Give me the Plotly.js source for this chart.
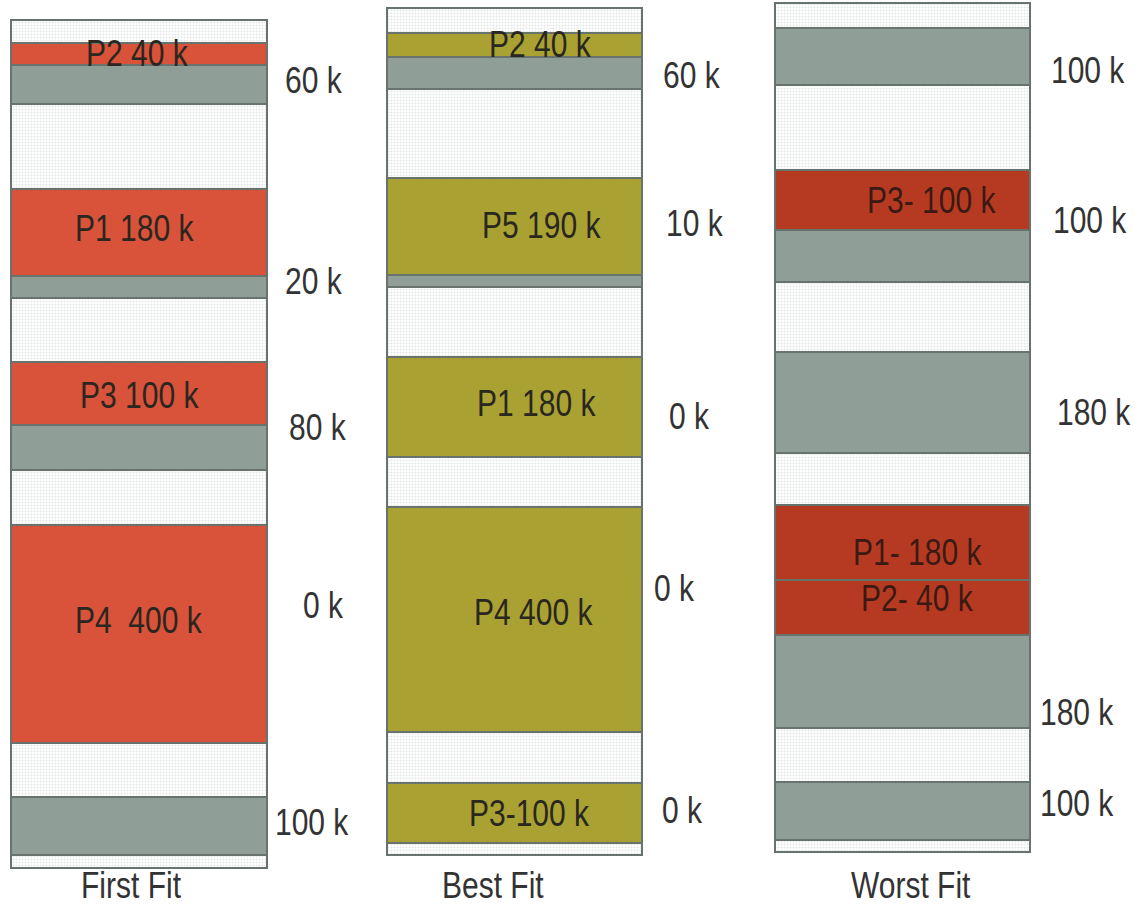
<!DOCTYPE html>
<html>
<head>
<meta charset="utf-8">
<script src="https://cdn.plot.ly/plotly-3.0.1.min.js"></script>
<style>html,body{margin:0;padding:0;background:#fff;}#chart{width:1135px;height:905px;}</style>
</head>
<body>
<div id="chart"></div>
<script>
// ---------- DATA ----------
const columns = ["First Fit", "Best Fit", "Worst Fit"];
// block kinds: F = free hole, P = placed process, U = other used block
const firstFitKinds  = ["F","P","U","F","P","U","F","P","U","F","P","F","U","F"];
const firstFitSizes  = [23, 22, 39, 85, 87, 22, 64, 63, 45, 55, 218, 54, 58, 13];
const firstFitLabels = ["","P2 40 k","","","P1 180 k","","","P3 100 k","","","P4  400 k","","",""];
const firstFitHoles  = ["60 k", "20 k", "80 k", "0 k", "100 k"];

const bestFitKinds   = ["F","P","U","F","P","U","F","P","F","P","F","P","F"];
const bestFitSizes   = [25, 24, 32, 89, 97, 12, 70, 100, 50, 225, 51, 60, 12];
const bestFitLabels  = ["","P2 40 k","","","P5 190 k","","","P1 180 k","","P4 400 k","","P3-100 k",""];
const bestFitHoles   = ["60 k", "10 k", "0 k", "0 k", "0 k"];

const worstFitKinds  = ["F","U","F","P","U","F","U","F","P","P","U","F","U","F"];
const worstFitSizes  = [25, 57, 85, 60, 52, 70, 101, 52, 75, 55, 93, 54, 58, 12];
const worstFitLabels = ["","","","P3- 100 k","","","","","P1- 180 k","P2- 40 k","","","",""];
const worstFitHoles  = ["100 k", "100 k", "180 k", "180 k", "100 k"];

// ---------- STYLE / LAYOUT ----------
const colStyle = [
  {center: 139,   width: 256, top: 20, proc: "#d9523a", labelDx: [0,-2,0,-3,-5,-2,0,0,0,26,0,0,0,0],
   holePos: [[314,80],[314,281],[318,427],[323,605],[312,822]], titleX: 131},
  {center: 514.5, width: 255, top: 8,  proc: "#a9a233", labelDx: [0,26,0,0,27,0,0,22,0,19,0,15,0],
   holePos: [[692,75],[695,223],[689,416],[674,588],[682,810]], titleX: 493},
  {center: 902.5, width: 255, top: 3,  proc: "#b63a22", labelDx: [0,0,0,29,0,0,0,0,15,15,0,0,0,0],
   holePos: [[1088,70],[1090,220],[1094,412],[1077,712],[1077,803]], titleX: 911}
];
const labelDy = {"P2 40 k": -1, "P4  400 k": -14, "P1 180 k": -4, "P4 400 k": -7, "P1- 180 k": 10, "P2- 40 k": -9, "P3 100 k": 2, "P5 190 k": -1};
const freeColor = "#e6e8e7", usedColor = "#8f9e97", edgeColor = "#69736e";
const txtFont = "Liberation Sans, Arial, sans-serif";
const txtSize = 30;
const textStretchY = 1.22;

const allKinds  = [firstFitKinds, bestFitKinds, worstFitKinds];
const allSizes  = [firstFitSizes, bestFitSizes, worstFitSizes];
const allLabels = [firstFitLabels, bestFitLabels, worstFitLabels];
const allHoles  = [firstFitHoles, bestFitHoles, worstFitHoles];

const traces = [];
const annotations = [];
allKinds.forEach((kinds, c) => {
  const st = colStyle[c];
  const sizes = allSizes[c];
  const bases = [];
  let acc = st.top;
  sizes.forEach(s => { bases.push(acc); acc += s; });
  traces.push({
    type: "bar",
    name: columns[c],
    x: sizes.map(() => st.center),
    y: sizes,
    base: bases,
    width: sizes.map(() => st.width),
    orientation: "v",
    hoverinfo: "skip",
    showlegend: false,
    marker: {
      color: kinds.map(k => k === "F" ? freeColor : (k === "P" ? st.proc : usedColor)),
      line: {color: edgeColor, width: 2},
      pattern: {
        shape: kinds.map(k => k === "F" ? "." : ""),
        fgcolor: "#9fa4a2",
        size: 3,
        solidity: 0.4,
        fillmode: "replace"
      }
    }
  });
  allLabels[c].forEach((lab, i) => {
    if (!lab) return;
    annotations.push({
      x: st.center, y: bases[i] + sizes[i] / 2,
      xref: "x", yref: "y",
      text: lab, showarrow: false,
      xshift: st.labelDx[i] || 0, yshift: -(labelDy[lab] || 0),
      font: {family: txtFont, size: txtSize, color: c === 2 ? "#3a1a12" : "#2a2620"}
    });
  });
  allHoles[c].forEach((lab, i) => {
    annotations.push({
      x: st.holePos[i][0], y: st.holePos[i][1], xref: "x", yref: "y",
      text: lab, showarrow: false,
      font: {family: txtFont, size: txtSize, color: "#333333"}
    });
  });
  annotations.push({
    x: st.titleX, y: 885, xref: "x", yref: "y",
    text: columns[c], showarrow: false,
    font: {family: txtFont, size: txtSize, color: "#333333"}
  });
});

const layout = {
  width: 1135, height: 905,
  margin: {l: 0, r: 0, t: 0, b: 0},
  paper_bgcolor: "#ffffff", plot_bgcolor: "#ffffff",
  barmode: "overlay",
  xaxis: {range: [0, 1135], visible: false, fixedrange: true},
  yaxis: {range: [905, 0], visible: false, fixedrange: true},
  annotations: annotations,
  showlegend: false
};

Plotly.newPlot("chart", traces, layout, {displayModeBar: false, staticPlot: true}).then(gd => {
  // tall, condensed look of the original lettering: stretch text vertically about its centre
  gd.querySelectorAll("text.annotation-text").forEach(t => {
    const b = t.getBBox();
    const cy = b.y + b.height / 2;
    const prev = t.getAttribute("transform") || "";
    t.setAttribute("transform", `translate(0,${cy}) scale(1,${textStretchY}) translate(0,${-cy}) ${prev}`);
  });
});
</script>
</body>
</html>
